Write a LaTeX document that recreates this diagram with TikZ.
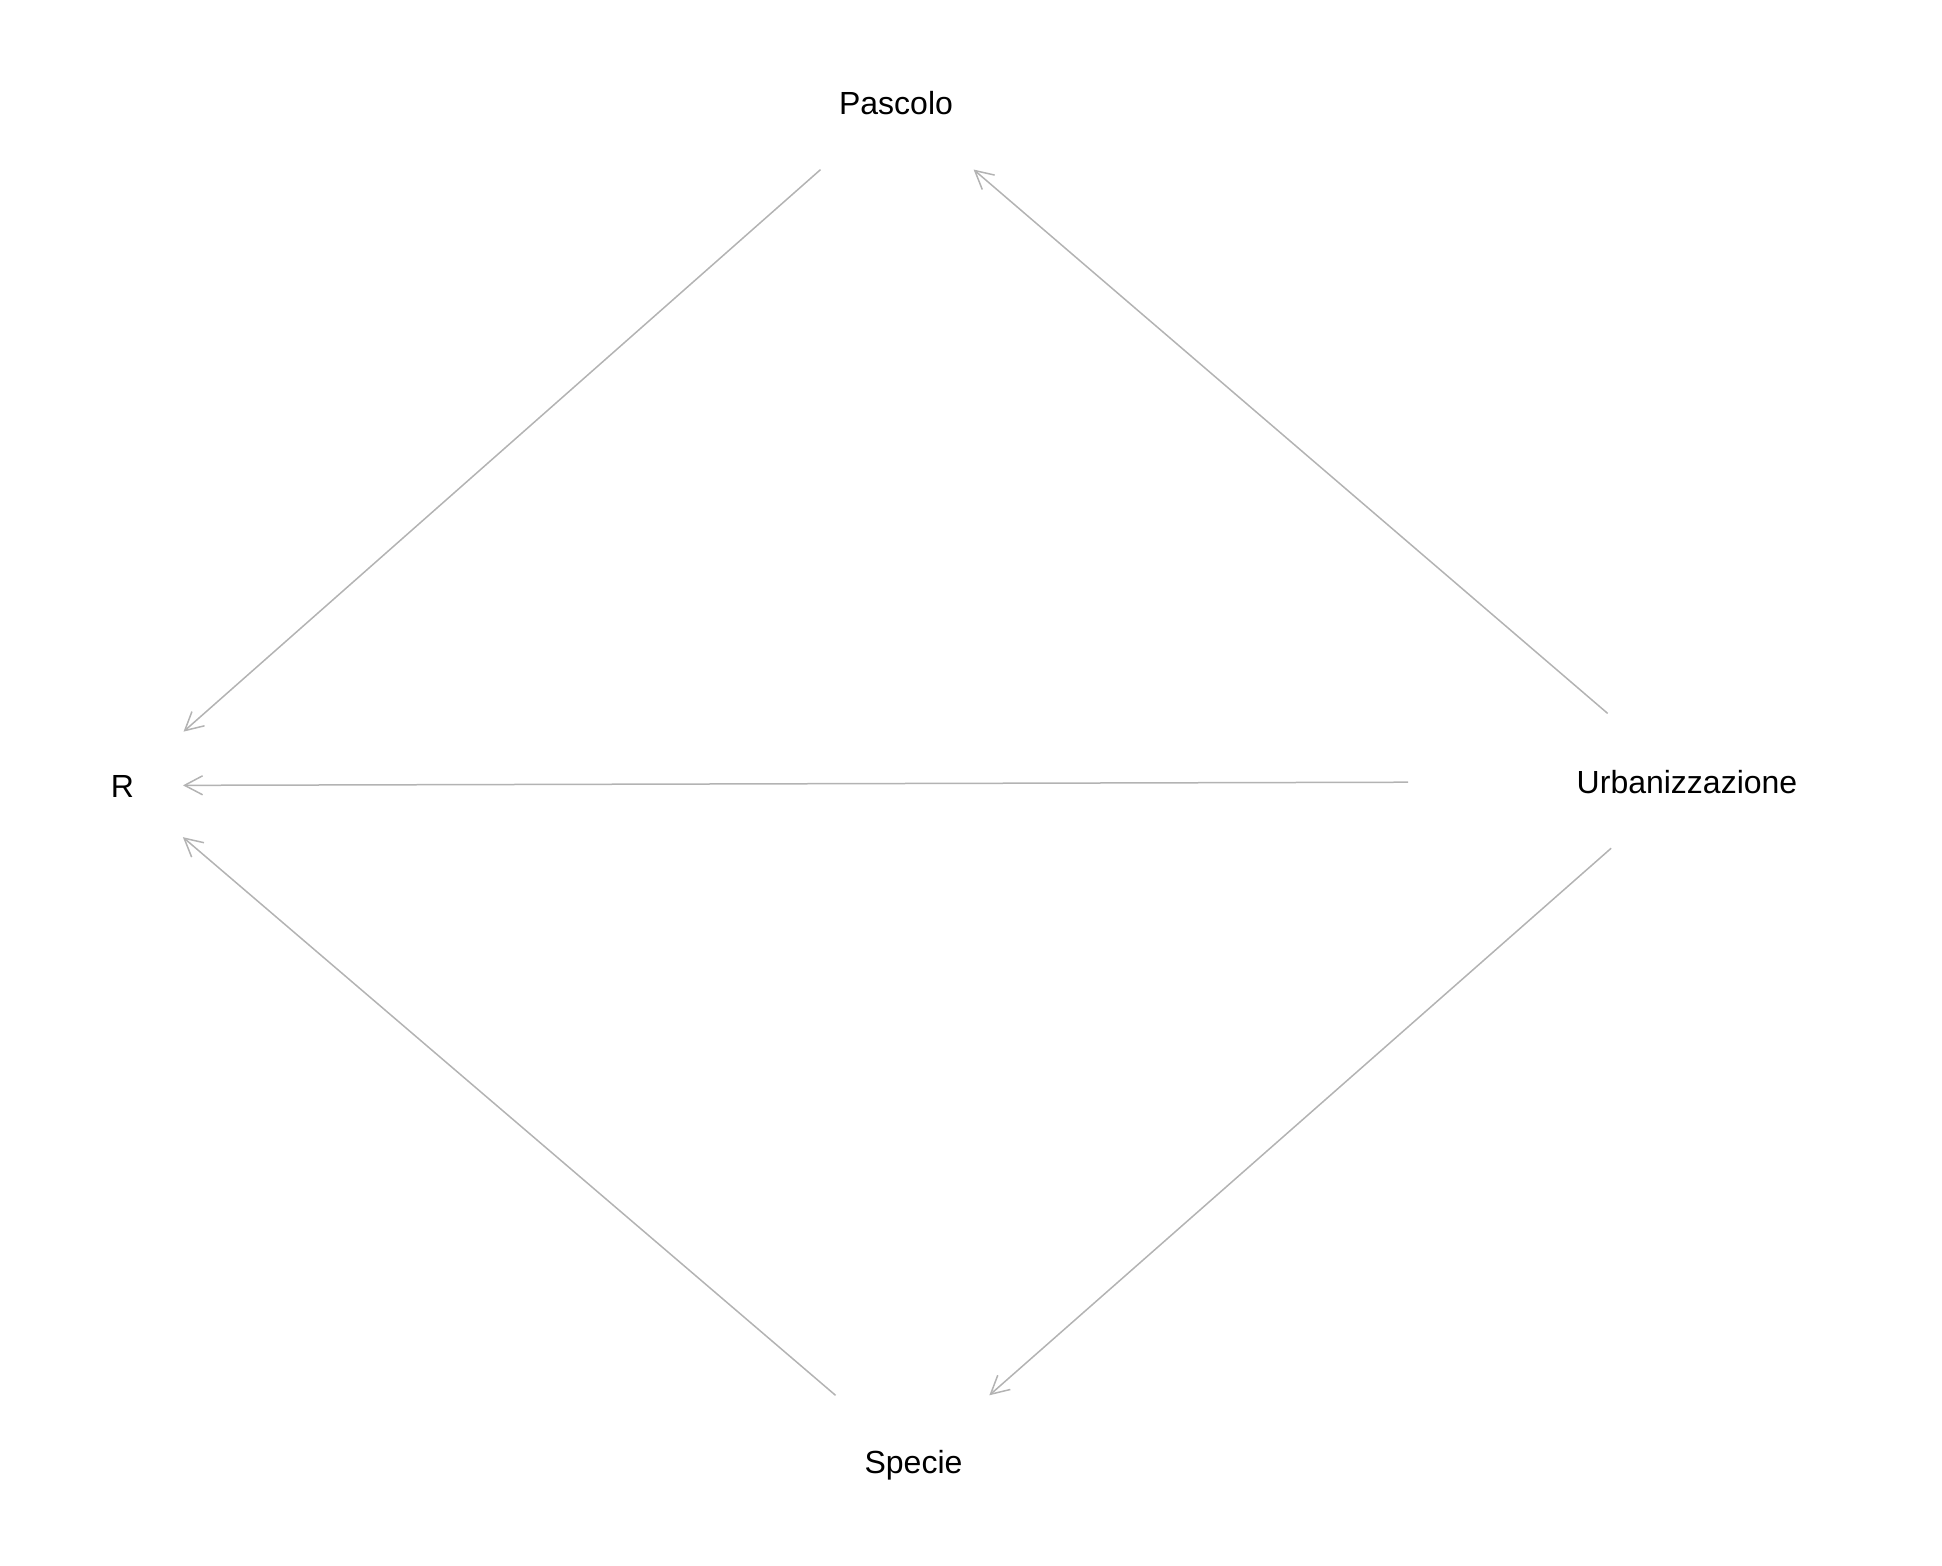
\documentclass[tikz,border=0pt]{standalone}
\usepackage{fontspec}
\setmainfont{Liberation Sans}
\usetikzlibrary{arrows.meta}
\definecolor{edgegray}{RGB}{179,179,179}
\tikzset{
  lbl/.style={inner sep=0pt, outer sep=0pt, text height=11.5pt, text depth=0pt, font=\fontsize{16pt}{19pt}\selectfont},
  edge/.style={draw=edgegray, line width=0.75pt, -{Straight Barb[length=9pt,width=9.5pt]}}
}
\begin{document}
\begin{tikzpicture}[x=0.5pt,y=-0.5pt]
\useasboundingbox (0,0) rectangle (1942,1566);
\node[lbl] (R) at (122.5,785.5) {R};
\node[lbl] (P) at (896,103) {Pascolo};
\node[lbl] (S) at (913.5,1462) {Specie};
\node[lbl] (U) at (1687,781.5) {Urbanizzazione};
\draw[edge, shorten <=50.35pt, shorten >=40.7pt] (P.center) -- (R.center);
\draw[edge, shorten <=52.3pt, shorten >=51.1pt] (U.center) -- (P.center);
\draw[edge, shorten <=139.5pt, shorten >=30.25pt] (U.center) -- (R.center);
\draw[edge, shorten <=50.5pt, shorten >=50.5pt] (U.center) -- (S.center);
\draw[edge, shorten <=51.3pt, shorten >=39.75pt] (S.center) -- (R.center);
\end{tikzpicture}
\end{document}
